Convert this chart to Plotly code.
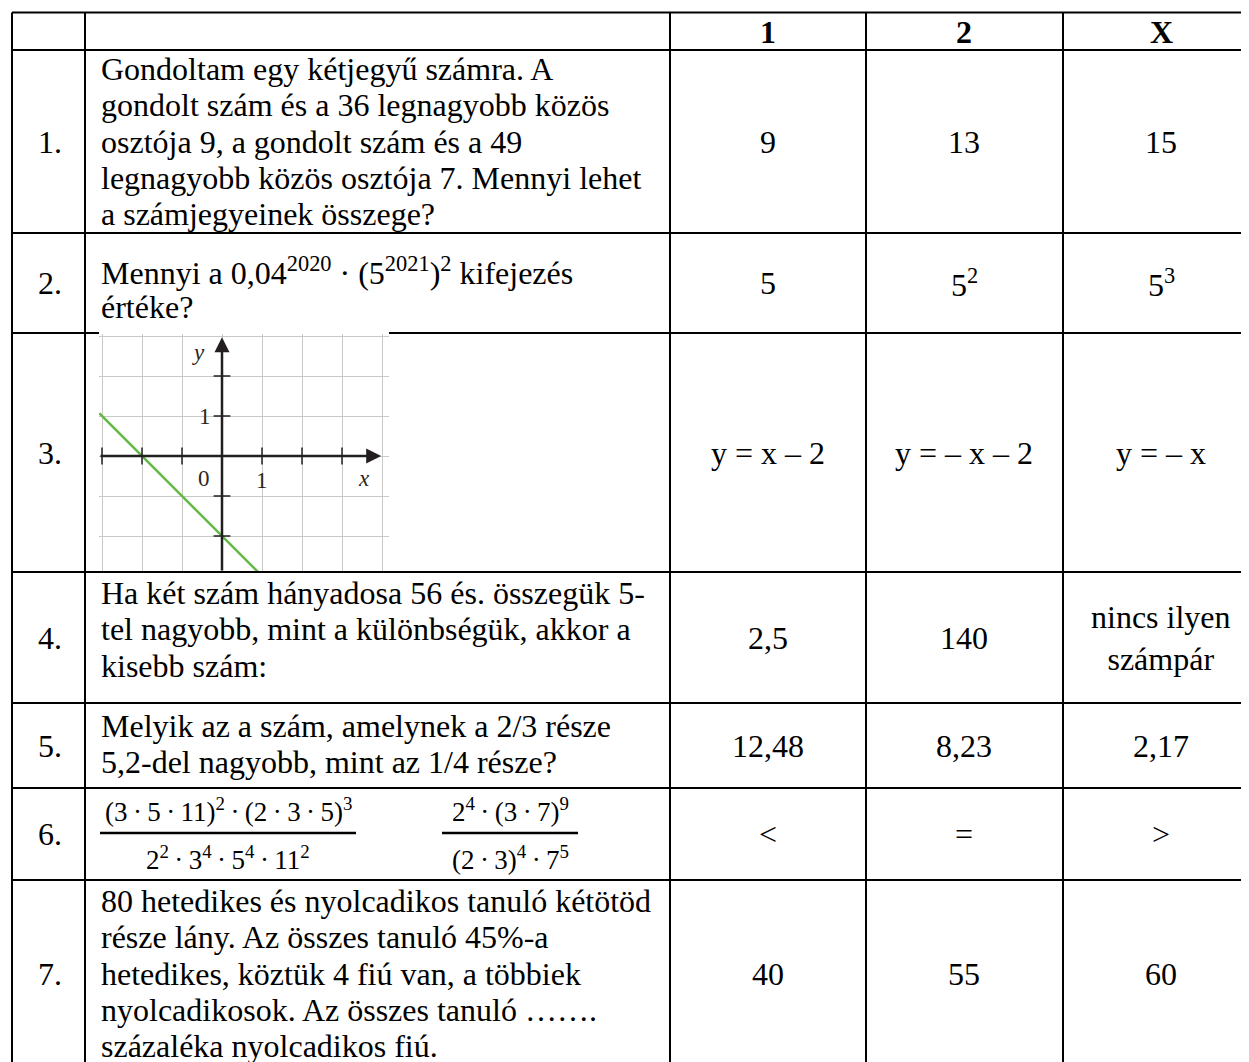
import plotly.graph_objects as go

W, H = 1249, 1062
OFF = 8  # the page body adds an 8 px margin

# ---- table content ----
header = ["1", "2", "X"]
row_labels = ["1.", "2.", "3.", "4.", "5.", "6.", "7."]
questions = [
    ["Gondoltam egy kétjegyű számra. A",
     "gondolt szám és a 36 legnagyobb közös",
     "osztója 9, a gondolt szám és a 49",
     "legnagyobb közös osztója 7. Mennyi lehet",
     "a számjegyeinek összege?"],
    ["Mennyi a 0,04<sup>2020</sup> · (5<sup>2021</sup>)<sup>2</sup> kifejezés",
     "értéke?"],
    [],
    ["Ha két szám hányadosa 56 és. összegük 5-",
     "tel nagyobb, mint a különbségük, akkor a",
     "kisebb szám:"],
    ["Melyik az a szám, amelynek a 2/3 része",
     "5,2-del nagyobb, mint az 1/4 része?"],
    [],
    ["80 hetedikes és nyolcadikos tanuló kétötöd",
     "része lány. Az összes tanuló 45%-a",
     "hetedikes, köztük 4 fiú van, a többiek",
     "nyolcadikosok. Az összes tanuló …….",
     "százaléka nyolcadikos fiú."],
]
answers_1 = ["9", "5", "y = x – 2", "2,5", "12,48", "&lt;", "40"]
answers_2 = ["13", "5<sup>2</sup>", "y = – x – 2", "140", "8,23", "=", "55"]
answers_x = ["15", "5<sup>3</sup>", "y = – x", "nincs ilyen<br>számpár", "2,17", "&gt;", "60"]

# row 6 fractions
frac_num = ["(3\u2009·\u20095\u2009·\u200911)<sup>2</sup>\u2009·\u2009(2\u2009·\u20093\u2009·\u20095)<sup>3</sup>",
            "2<sup>4</sup>\u2009·\u2009(3\u2009·\u20097)<sup>9</sup>"]
frac_den = ["2<sup>2</sup>\u2009·\u20093<sup>4</sup>\u2009·\u20095<sup>4</sup>\u2009·\u200911<sup>2</sup>",
            "(2\u2009·\u20093)<sup>4</sup>\u2009·\u20097<sup>5</sup>"]

# row 3 graph: line y = -x - 2
line_x = [-3.07, 0.9]
line_y = [1.07, -2.9]
xtick_vals = [-3, -2, -1, 1, 2, 3]
ytick_vals = [-2, -1, 1, 2]

# ---- layout geometry (pixels) ----
col_x = [12, 85, 670, 866, 1063, 1259]
row_y = [12.5, 50, 233, 333, 572, 703, 788, 880, 1080]
first_line = [19, 38, 0, 21, 23, 0, 21]   # offset of first text line centre from row top
line_h = 36.3
FONT = "Liberation Serif"
FS = 32


def px(x):
    return (x - OFF) / W


def py(y):
    return 1 - (y - OFF) / H


fig = go.Figure()
shapes = []
ann = []

# table rules
for x in col_x:
    shapes.append(dict(type="line", xref="paper", yref="paper", x0=px(x), x1=px(x),
                       y0=py(row_y[0]), y1=py(row_y[-1]), line=dict(color="black", width=2)))
for i, y in enumerate(row_y[:-1]):
    if i == 3:
        segs = [(col_x[0], 99), (389, col_x[-1])]
    else:
        segs = [(col_x[0], col_x[-1])]
    for a, b in segs:
        shapes.append(dict(type="line", xref="paper", yref="paper", x0=px(a), x1=px(b),
                           y0=py(y), y1=py(y), line=dict(color="black", width=2)))

# header
for j, h in enumerate(header):
    cx = (col_x[j + 2] + col_x[j + 3]) / 2
    ann.append(dict(x=px(cx), y=py((row_y[0] + row_y[1]) / 2 + 1), text="<b>" + h + "</b>"))

# rows
for i in range(len(row_labels)):
    top, bot = row_y[i + 1], row_y[i + 2]
    cy = (top + bot) / 2
    if i == 6:
        cy = top + first_line[i] + 2 * line_h
    ann.append(dict(x=px((col_x[0] + col_x[1]) / 2 + 1), y=py(cy), text=row_labels[i]))
    for k, line in enumerate(questions[i]):
        ann.append(dict(x=px(99), y=py(top + first_line[i] + k * line_h), text=line,
                        xanchor="left"))
    for j, col in enumerate([answers_1, answers_2, answers_x]):
        cx = (col_x[j + 2] + col_x[j + 3]) / 2
        ann.append(dict(x=px(cx), y=py(cy), text=col[i]))

# fractions in row 6
r6 = (row_y[6] + row_y[7]) / 2 - 1
for cx, (x0, x1), num, den in zip([228, 510], [(100, 356), (442, 578)], frac_num, frac_den):
    ann.append(dict(x=px(cx), y=py(r6 - 23), text=num, font=dict(size=27)))
    ann.append(dict(x=px(cx), y=py(r6 + 25), text=den, font=dict(size=27)))
    shapes.append(dict(type="line", xref="paper", yref="paper", x0=px(x0), x1=px(x1),
                       y0=py(r6), y1=py(r6), line=dict(color="black", width=2.5)))

for a in ann:
    a.setdefault("xref", "paper")
    a.setdefault("yref", "paper")
    a.setdefault("showarrow", False)
    a.setdefault("xanchor", "center")
    a.setdefault("yanchor", "middle")
    a.setdefault("align", "left" if a["xanchor"] == "left" else "center")
    a.setdefault("font", dict(size=FS))
    a["font"] = dict(family=FONT, color="black", **a["font"])

# ---- small coordinate graph in row 3 ----
ax_col = "#231f20"
fig.add_trace(go.Scatter(x=line_x, y=line_y, mode="lines",
                         line=dict(color="#63b846", width=2.5), hoverinfo="skip"))
fig.add_trace(go.Scatter(x=xtick_vals, y=[0] * len(xtick_vals), mode="markers",
                         marker=dict(symbol="line-ns", size=12, line=dict(color=ax_col, width=1.5)),
                         hoverinfo="skip"))
fig.add_trace(go.Scatter(x=[0] * len(ytick_vals), y=ytick_vals, mode="markers",
                         marker=dict(symbol="line-ew", size=12, line=dict(color=ax_col, width=1.5)),
                         hoverinfo="skip"))

ann += [
    dict(x=3.98, y=0, ax=-3.075, ay=0, xref="x", yref="y", axref="x", ayref="y",
         text="", showarrow=True, arrowhead=2, arrowsize=1.2, arrowwidth=2.5, arrowcolor=ax_col),
    dict(x=0, y=2.97, ax=0, ay=-2.9, xref="x", yref="y", axref="x", ayref="y",
         text="", showarrow=True, arrowhead=2, arrowsize=1.2, arrowwidth=2.5, arrowcolor=ax_col),
]
graph_labels = [("1", -0.42, 1.0, False), ("0", -0.45, -0.55, False), ("1", 1.0, -0.62, False),
                ("x", 3.55, -0.55, True), ("y", -0.6, 2.6, True)]
for t, gx, gy, it in graph_labels:
    ann.append(dict(x=gx, y=gy, xref="x", yref="y", showarrow=False,
                    text="<i>" + t + "</i>" if it else t,
                    font=dict(family=FONT, size=23, color="#2b2620")))

fig.update_layout(
    width=W, height=H,
    margin=dict(l=0, r=0, t=0, b=0),
    paper_bgcolor="white", plot_bgcolor="white",
    showlegend=False,
    shapes=shapes, annotations=ann,
    xaxis=dict(domain=[px(99), px(389)], range=[-3.075, 4.175], dtick=1, tick0=0,
               showgrid=True, gridcolor="#c8c8c8", gridwidth=1, zeroline=False,
               showticklabels=False, ticks="", fixedrange=True),
    yaxis=dict(domain=[py(572), py(334)], range=[-2.9, 3.05], dtick=1, tick0=0,
               showgrid=True, gridcolor="#c8c8c8", gridwidth=1, zeroline=False,
               showticklabels=False, ticks="", fixedrange=True),
)

fig.write_html("out.html")
